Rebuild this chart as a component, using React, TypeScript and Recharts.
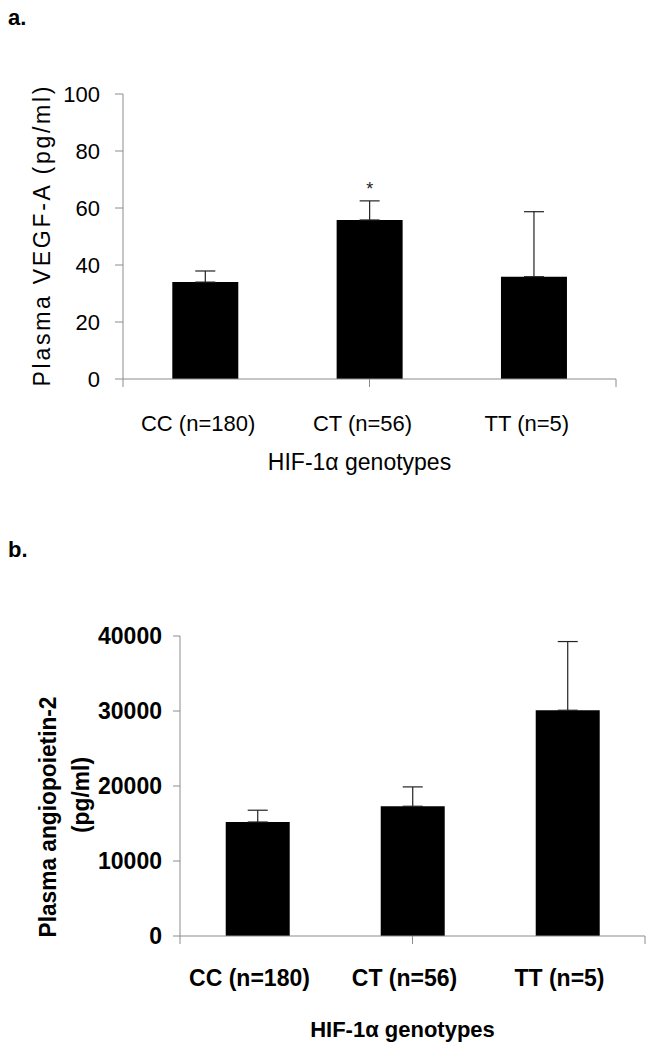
import { BarChart, Bar, XAxis, YAxis, ErrorBar, LabelList, Label } from "recharts";

const genotypes = ["CC (n=180)", "CT (n=56)", "TT (n=5)"];

// panel a: plasma VEGF-A (pg/ml)
const vegfMeans = [34.0, 55.8, 35.9];
const vegfErrors = [3.9, 6.7, 22.8];
const vegfMarks = ["", "*", ""];
const vegfTicks = [0, 20, 40, 60, 80, 100];

// panel b: plasma angiopoietin-2 (pg/ml)
const angMeans = [15200, 17300, 30100];
const angErrors = [1570, 2580, 9160];
const angTicks = [0, 10000, 20000, 30000, 40000];

// category boundaries for the tick marks on the x axis
const edgeTicks = [0, 1, 2, 3];

const FONT = "'Liberation Sans', Arial, Helvetica, sans-serif";
const AXIS = "#8c8c8c";

const vegfData = genotypes.map((g, i) => ({
  name: g,
  value: vegfMeans[i],
  err: [0, vegfErrors[i]],
  mark: vegfMarks[i],
}));

const angData = genotypes.map((g, i) => ({
  name: g,
  value: angMeans[i],
  err: [0, angErrors[i]],
}));

const App = () => {
  return (
    <div
      style={{
        position: "absolute",
        left: 0,
        top: 0,
        width: 652,
        height: 1050,
        background: "#fff",
        fontFamily: FONT,
      }}
    >
      <div style={{ position: "absolute", left: 8, top: 5, fontSize: 22, fontWeight: 700 }}>a.</div>
      <div style={{ position: "absolute", left: 8, top: 537, fontSize: 22, fontWeight: 700 }}>b.</div>

      {/* panel a */}
      <div style={{ position: "absolute", left: 0, top: 0 }}>
        <BarChart
          width={652}
          height={500}
          data={vegfData}
          margin={{ top: 94, right: 36, bottom: 30, left: 0 }}
          barCategoryGap="30%"
        >
          <XAxis
            xAxisId="base"
            type="number"
            domain={[0, 3]}
            ticks={edgeTicks}
            tickFormatter={() => ""}
            height={1}
            tickSize={8}
            axisLine={{ stroke: AXIS }}
            tickLine={{ stroke: AXIS }}
            allowDataOverflow
          />
          <XAxis
            xAxisId="names"
            dataKey="name"
            height={90}
            axisLine={false}
            tickLine={false}
            tickSize={0}
            tickMargin={35}
            tick={{ fill: "#000", fontSize: 22, fontFamily: FONT, dx: -7 }}
          >
            <Label
              value="HIF-1α genotypes"
              position="insideBottom"
              offset={0}
              dx={-10}
              style={{ fill: "#000", fontSize: 23, fontFamily: FONT }}
            />
          </XAxis>
          <YAxis
            width={123}
            domain={[0, 100]}
            ticks={vegfTicks}
            tickSize={8}
            tickMargin={15}
            axisLine={{ stroke: AXIS }}
            tickLine={{ stroke: AXIS }}
            tick={{ fill: "#000", fontSize: 22, fontFamily: FONT }}
          >
            <Label
              content={({ viewBox }: any) => {
                const cx = viewBox.x + 42;
                const cy = viewBox.y + viewBox.height / 2;
                return (
                  <text
                    x={cx}
                    y={cy}
                    transform={`rotate(-90, ${cx}, ${cy})`}
                    textAnchor="middle"
                    dominantBaseline="central"
                    fontSize={23}
                    textLength={300}
                    lengthAdjust="spacing"
                    fontFamily={FONT}
                    fill="#000"
                  >
                    Plasma VEGF-A (pg/ml)
                  </text>
                );
              }}
            />
          </YAxis>
          <Bar dataKey="value" xAxisId="names" fill="#000" isAnimationActive={false}>
            <ErrorBar dataKey="err" width={10} stroke="#222" strokeWidth={1.2} />
            <LabelList
              dataKey="mark"
              position="top"
              offset={25}
              style={{ fill: "#222", fontSize: 18, fontFamily: FONT }}
            />
          </Bar>
        </BarChart>
      </div>

      {/* panel b */}
      <div style={{ position: "absolute", left: 0, top: 500 }}>
        <BarChart
          width={652}
          height={550}
          data={angData}
          margin={{ top: 136, right: 7, bottom: 13, left: 0 }}
          barCategoryGap="29.5%"
        >
          <XAxis
            xAxisId="base"
            type="number"
            domain={[0, 3]}
            ticks={edgeTicks}
            tickFormatter={() => ""}
            height={1}
            tickSize={8}
            axisLine={{ stroke: AXIS }}
            tickLine={{ stroke: AXIS }}
            allowDataOverflow
          />
          <XAxis
            xAxisId="names"
            dataKey="name"
            height={100}
            axisLine={false}
            tickLine={false}
            tickSize={0}
            tickMargin={33}
            tick={{ fill: "#000", fontSize: 23, fontWeight: 700, fontFamily: FONT, dx: -8 }}
          >
            <Label
              value="HIF-1α genotypes"
              position="insideBottom"
              offset={0}
              dx={-10}
              style={{ fill: "#000", fontSize: 22, fontWeight: 700, fontFamily: FONT }}
            />
          </XAxis>
          <YAxis
            width={180}
            domain={[0, 40000]}
            ticks={angTicks}
            tickSize={7}
            tickMargin={11}
            axisLine={{ stroke: AXIS }}
            tickLine={{ stroke: AXIS }}
            tick={{ fill: "#000", fontSize: 23, fontWeight: 700, fontFamily: FONT }}
          >
            <Label
              content={({ viewBox }: any) => {
                const x1 = viewBox.x + 47;
                const y1 = viewBox.y + viewBox.height / 2 + 31;
                const x2 = viewBox.x + 80;
                const y2 = viewBox.y + viewBox.height / 2 + 9;
                return (
                  <g fontFamily={FONT} fontSize={24} fontWeight={700} fill="#000">
                    <text
                      x={x1}
                      y={y1}
                      transform={`rotate(-90, ${x1}, ${y1})`}
                      textAnchor="middle"
                      dominantBaseline="central"
                      textLength={241}
                      lengthAdjust="spacingAndGlyphs"
                    >
                      Plasma angiopoietin-2
                    </text>
                    <text
                      x={x2}
                      y={y2}
                      transform={`rotate(-90, ${x2}, ${y2})`}
                      textAnchor="middle"
                      dominantBaseline="central"
                      textLength={76}
                      lengthAdjust="spacingAndGlyphs"
                    >
                      (pg/ml)
                    </text>
                  </g>
                );
              }}
            />
          </YAxis>
          <Bar dataKey="value" xAxisId="names" fill="#000" isAnimationActive={false}>
            <ErrorBar dataKey="err" width={10} stroke="#222" strokeWidth={1.2} />
          </Bar>
        </BarChart>
      </div>
    </div>
  );
};

export default App;
